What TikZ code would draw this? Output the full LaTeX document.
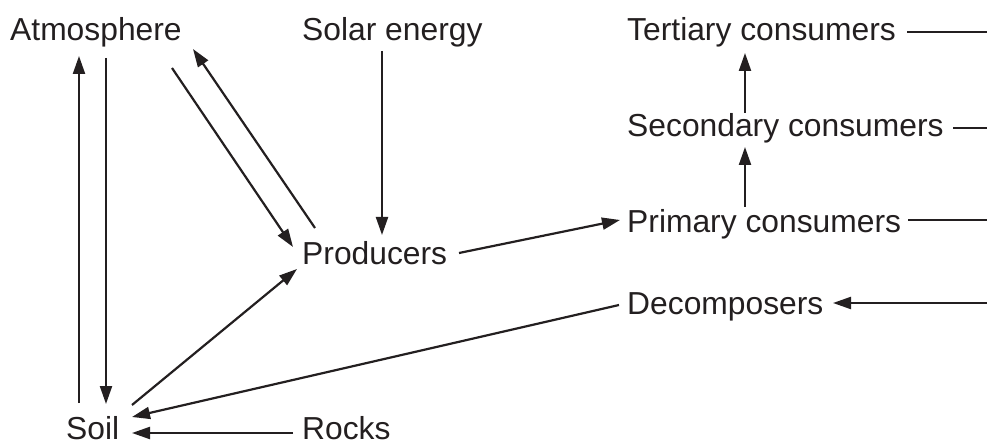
\documentclass[tikz,border=0pt]{standalone}
\usepackage{fontspec}
\setmainfont{Liberation Sans}
\usetikzlibrary{arrows.meta}
\definecolor{ink}{HTML}{231F20}
\tikzset{
  lbl/.style={anchor=base west,inner sep=0pt,font=\fontsize{31.8}{32}\selectfont,text=ink},
  conn/.style={draw=ink,line width=2.2pt},
  arr/.style={conn,-{Triangle[length=18pt,width=12pt]}}
}
\begin{document}
\begin{tikzpicture}[x=1pt,y=-1pt]
\useasboundingbox (0,0) rectangle (987,443);
% labels
\node[lbl] (atm) at (10,41) {Atmosphere};
\node[lbl] (sol) at (302,41) {Solar energy};
\node[lbl] (ter) at (627,41) {Tertiary consumers};
\node[lbl] (sec) at (627,137) {Secondary consumers};
\node[lbl] (pri) at (627,233) {Primary consumers};
\node[lbl] (pro) at (302,265) {Producers};
\node[lbl] (dec) at (627,315) {Decomposers};
\node[lbl] (soi) at (66,439) {Soil};
\node[lbl] (roc) at (302,439) {Rocks};
% connector end points
\coordinate (a1) at (79,403);   \coordinate (a2) at (79,56);
\coordinate (b1) at (106,58);   \coordinate (b2) at (106,404);
\coordinate (c1) at (172,68);   \coordinate (c2) at (293,247);
\coordinate (d1) at (315,228);  \coordinate (d2) at (193,49);
\coordinate (e1) at (382,51);   \coordinate (e2) at (382,235);
\coordinate (f1) at (459,253);  \coordinate (f2) at (620,220);
\coordinate (g1) at (745,207);  \coordinate (g2) at (745,147);
\coordinate (h1) at (745,113);  \coordinate (h2) at (745,53);
\coordinate (i1) at (132,405);  \coordinate (i2) at (297,269);
\coordinate (j1) at (619,305);  \coordinate (j2) at (132,417);
\coordinate (k1) at (293,433);  \coordinate (k2) at (132,433);
\coordinate (t1) at (907,32);   \coordinate (t2) at (987,32);
\coordinate (s1) at (953,128);  \coordinate (s2) at (987,128);
\coordinate (p1) at (908,220);  \coordinate (p2) at (987,220);
\coordinate (q1) at (987,303);  \coordinate (q2) at (833,303);
% connectors
\draw[arr] (a1) -- (a2);
\draw[arr] (b1) -- (b2);
\draw[arr] (c1) -- (c2);
\draw[arr] (d1) -- (d2);
\draw[arr] (e1) -- (e2);
\draw[arr] (f1) -- (f2);
\draw[arr] (g1) -- (g2);
\draw[arr] (h1) -- (h2);
\draw[arr] (i1) -- (i2);
\draw[arr] (j1) -- (j2);
\draw[arr] (k1) -- (k2);
\draw[conn] (t1) -- (t2);
\draw[conn] (s1) -- (s2);
\draw[conn] (p1) -- (p2);
\draw[arr] (q1) -- (q2);
\end{tikzpicture}
\end{document}
